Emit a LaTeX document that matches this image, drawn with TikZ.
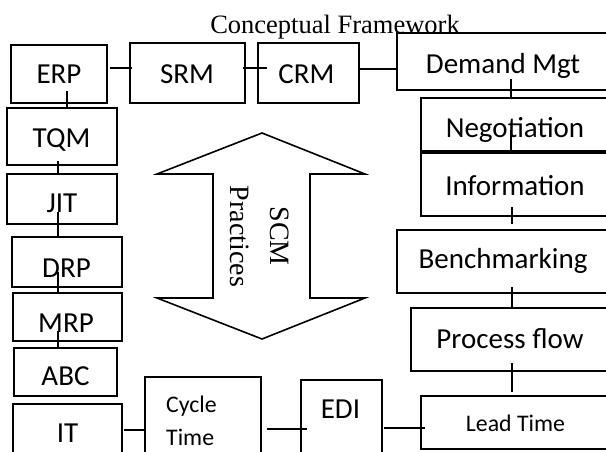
\documentclass[tikz,border=0pt]{standalone}
\usepackage{fontspec}
\setmainfont{Liberation Serif}
\newfontfamily\calfont{Carlito}
\usetikzlibrary{calc}
\tikzset{
  box/.style={draw, line width=1.7pt, inner sep=0pt, outer sep=0pt},
  conn/.style={line width=1.6pt},
  lbl/.style={font=\calfont\fontsize{29}{34}\selectfont, inner sep=0pt, anchor=base},
  slbl/.style={font=\calfont\fontsize{23.8}{33}\selectfont, inner sep=0pt, anchor=base},
  ttl/.style={font=\fontsize{26.5}{30}\selectfont, inner sep=0pt, anchor=base},
  rot/.style={font=\fontsize{28}{32}\selectfont, inner sep=0pt, anchor=base, rotate=-90}
}
\begin{document}
\begin{tikzpicture}[x=1pt,y=1pt]
\useasboundingbox (0,0) rectangle (606,-451);
\clip (0,0) rectangle (606,-451);

% title
\node[ttl] (title) at (335,-33) {Conceptual Framework};

% boxes
\node[box, minimum width=96,  minimum height=58] (erp)   at (59,-74) {};
\node[box, minimum width=115, minimum height=60] (srm)   at (187.5,-73) {};
\node[box, minimum width=101, minimum height=60] (crm)   at (308.5,-73) {};
\node[box, minimum width=212, minimum height=57] (dem)   at (503,-61.5) {};
\node[box, minimum width=188, minimum height=53] (neg)   at (515,-124.5) {};
\node[box, minimum width=188, minimum height=63] (info)  at (515,-184.5) {};
\node[box, minimum width=212, minimum height=63] (bench) at (503,-261.5) {};
\node[box, minimum width=198, minimum height=63] (proc)  at (510,-339.5) {};
\node[box, minimum width=188, minimum height=53] (lead)  at (515,-422.5) {};
\node[box, minimum width=81,  minimum height=80] (edi)   at (341.5,-420) {};
\node[box, minimum width=116, minimum height=93] (cyc)   at (203,-423.5) {};
\node[box, minimum width=109, minimum height=66] (it)    at (67.5,-437) {};
\node[box, minimum width=103, minimum height=48] (abc)   at (65.5,-372) {};
\node[box, minimum width=109, minimum height=48] (mrp)   at (67.5,-317) {};
\node[box, minimum width=110, minimum height=50] (drp)   at (67,-262) {};
\node[box, minimum width=110, minimum height=50] (jit)   at (62,-199) {};
\node[box, minimum width=110, minimum height=57] (tqm)   at (62,-136.5) {};

% labels
\node[lbl] (lerp) at (59,-83) {ERP};
\node[lbl] (lsrm) at (187,-83) {SRM};
\node[lbl] (lcrm) at (306.5,-83) {CRM};
\node[lbl] (ldem) at (503,-73) {Demand Mgt};
\node[lbl] (lneg) at (515,-137) {Negotiation};
\node[lbl] (linf) at (515,-195) {Information};
\node[lbl] (lben) at (503,-268) {Benchmarking};
\node[lbl] (lpro) at (510,-348) {Process flow};
\node[slbl] (llea) at (515.5,-431) {Lead Time};
\node[lbl] (ledi) at (340.5,-418) {EDI};
\node[slbl, anchor=base west] (lcy1) at (166,-412) {Cycle};
\node[slbl, anchor=base west] (lcy2) at (166,-445) {Time};
\node[lbl] (lit)  at (67.5,-442) {IT};
\node[lbl] (labc) at (65.5,-385) {ABC};
\node[lbl] (lmrp) at (66,-332) {MRP};
\node[lbl] (ldrp) at (66.5,-277) {DRP};
\node[lbl] (ljit) at (62,-212) {JIT};
\node[lbl] (ltqm) at (61.5,-147) {TQM};

% connectors
\draw[conn] ([shift={(3,6)}]erp.east) -- ([shift={(2,5)}]srm.west);
\draw[conn] ([shift={(-2,5)}]srm.east) -- ([shift={(9,5)}]crm.west);
\draw[conn] ([shift={(0,4)}]crm.east) -- ([shift={(0,-7.5)}]dem.west);
\draw[conn] ([shift={(8,12)}]erp.south) -- ([shift={(5,0)}]tqm.north);
\draw[conn] ([shift={(-4,4)}]tqm.south) -- ([shift={(-4,0)}]jit.north);
\draw[conn] ([shift={(-4,12)}]jit.south) -- ([shift={(-9,0)}]drp.north);
\draw[conn] ([shift={(-9,15)}]drp.south) -- ([shift={(-9.5,0)}]mrp.north);
\draw[conn] ([shift={(-9.5,10)}]mrp.south) -- ([shift={(-7.5,0)}]abc.north);
\draw[conn] ([shift={(2,7)}]it.east) -- ([shift={(0,-6.5)}]cyc.west);
\draw[conn] ([shift={(6,-5.5)}]cyc.east) -- ([shift={(6,-9)}]edi.west);
\draw[conn] ([shift={(2,-8)}]edi.east) -- ([shift={(4,-5.5)}]lead.west);
\draw[conn] ([shift={(8,11)}]dem.south) -- ([shift={(-4,0)}]neg.north);
\draw[conn] ([shift={(-4,21)}]neg.south) -- ([shift={(-4,1)}]info.north);
\draw[conn] ([shift={(-3,9)}]info.south) -- ([shift={(9,6)}]bench.north);
\draw[conn] ([shift={(9,6)}]bench.south) -- ([shift={(2,1)}]proc.north);
\draw[conn] ([shift={(2,8)}]proc.south) -- ([shift={(-3,4)}]lead.north);

% double arrow
\draw[line width=1.6pt, line join=miter] (262,-133) -- (365,-174) -- (310,-174) -- (310,-298) -- (365,-298)
  -- (262,-339) -- (157,-298) -- (213,-298) -- (213,-174) -- (157,-174) -- cycle;
\node[rot] (scm) at (270,-236) {SCM};
\node[rot] (prac) at (230,-236.5) {Practices};
\end{tikzpicture}
\end{document}
